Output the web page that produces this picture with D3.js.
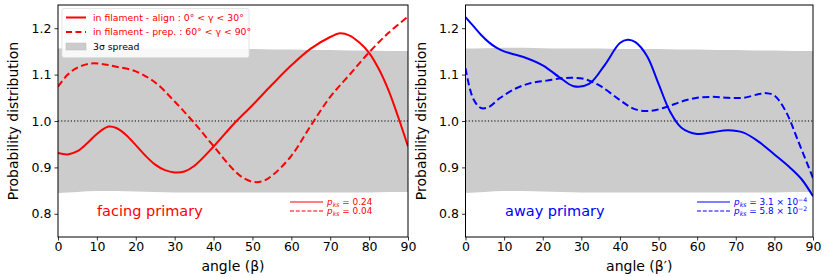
<!DOCTYPE html>
<html><head><meta charset="utf-8">
<script src="https://cdn.jsdelivr.net/npm/d3@7"></script>
<style>body{margin:0;background:#fff}svg{font-family:"DejaVu Sans",sans-serif}</style>
</head><body><svg id="c" width="830" height="277"></svg>
<script>
// ---------- data ----------
const xTicks = [0,10,20,30,40,50,60,70,80,90];
const yTicks = [0.8,0.9,1.0,1.1,1.2];
const bandAngles = [0,5,10,15,20,25,30,35,40,45,50,55,60,65,70,75,80,85,90];
const leftBandUpper = [1.156,1.158,1.159,1.158,1.157,1.156,1.156,1.156,1.155,1.155,1.155,1.154,1.154,1.153,1.153,1.152,1.152,1.151,1.151];
const leftBandLower = [0.845,0.847,0.849,0.849,0.848,0.847,0.846,0.846,0.846,0.846,0.846,0.846,0.846,0.846,0.846,0.846,0.846,0.847,0.847];
const rightBandUpper = [1.156,1.157,1.158,1.158,1.157,1.156,1.156,1.156,1.155,1.155,1.155,1.154,1.154,1.153,1.153,1.152,1.152,1.151,1.151];
const rightBandLower = [0.845,0.847,0.849,0.849,0.848,0.847,0.846,0.846,0.846,0.846,0.846,0.846,0.846,0.846,0.846,0.846,0.846,0.847,0.847];

const alignAngles = [0,2.5,5,7.5,10,13,15,17.5,20,22.5,25,27.5,30,32.5,35,40,45,50,55,60,65,70,72.5,75,77.5,80,82.5,85,87.5,90];
const alignValues = [0.931,0.928,0.935,0.952,0.972,0.988,0.985,0.970,0.948,0.925,0.906,0.894,0.889,0.891,0.903,0.945,0.992,1.034,1.078,1.120,1.156,1.181,1.189,1.184,1.169,1.147,1.112,1.066,1.008,0.945];
const prepAngles = [0,2.5,5,8.5,12,15,20,25,30,35,40,45,47.5,50,52.5,55,60,65,70,75,80,85,90];
const prepValues = [1.074,1.100,1.115,1.124,1.122,1.117,1.107,1.083,1.042,0.996,0.946,0.896,0.878,0.869,0.870,0.882,0.925,0.990,1.052,1.100,1.148,1.190,1.225];

const awaySolidAngles = [0,2,4,6,8,10,12,15,20,25,28,32,36,40,42,44,47,50,53,56,60,64,68,72,76,80,84,87,90];
const awaySolidValues = [1.224,1.205,1.186,1.170,1.158,1.150,1.145,1.138,1.120,1.090,1.075,1.080,1.120,1.168,1.175,1.170,1.140,1.080,1.020,0.985,0.972,0.976,0.980,0.975,0.955,0.928,0.900,0.875,0.838];
const awayDashAngles = [0,2,4,6,9,13,17,21,25,28,31,35,40,44,48,52,56,60,64,68,72,76,78,80,83,86,90];
const awayDashValues = [1.114,1.048,1.028,1.030,1.050,1.070,1.082,1.087,1.092,1.093,1.090,1.075,1.045,1.025,1.022,1.030,1.042,1.050,1.052,1.050,1.050,1.058,1.060,1.055,1.020,0.960,0.877];

const leftPks = ["0.24","0.04"];
const rightPks = [["3.1","4"],["5.8","2"]];

// ---------- layout ----------
const svg = d3.select("#c");
const yScale = d3.scaleLinear().domain([0.75,1.25]).range([237,5]);
const panels = [
  {x0:58, x1:408, color:"red", bandU:leftBandUpper, bandL:leftBandLower,
   s:{a:alignAngles,v:alignValues}, d:{a:prepAngles,v:prepValues}, xlabel:"angle (β)", label:"facing primary", lx:97},
  {x0:465.5, x1:813, color:"blue", bandU:rightBandUpper, bandL:rightBandLower,
   s:{a:awaySolidAngles,v:awaySolidValues}, d:{a:awayDashAngles,v:awayDashValues}, xlabel:"angle (β′)", label:"away primary", lx:505}
];

panels.forEach((p,pi)=>{
  const x = d3.scaleLinear().domain([0,90]).range([p.x0,p.x1]);
  const g = svg.append("g");
  const clipId = "clip"+pi;
  svg.append("clipPath").attr("id",clipId).append("rect")
    .attr("x",p.x0).attr("y",5).attr("width",p.x1-p.x0).attr("height",232);
  const area = d3.area().x((d,i)=>x(bandAngles[i])).y0((d,i)=>yScale(p.bandL[i])).y1((d,i)=>yScale(p.bandU[i])).curve(d3.curveMonotoneX);
  g.append("path").datum(bandAngles).attr("d",area).attr("fill","#cccccc");
  g.append("line").attr("x1",x(0)).attr("x2",x(90)).attr("y1",yScale(1)).attr("y2",yScale(1))
    .attr("stroke","#000").attr("stroke-width",1.2).attr("stroke-dasharray","1.2,2");
  const line = d3.line().x(d=>x(d[0])).y(d=>yScale(d[1])).curve(d3.curveCatmullRom.alpha(0.5));
  const cg = g.append("g").attr("clip-path",`url(#${clipId})`);
  cg.append("path").datum(p.s.a.map((a,i)=>[a,p.s.v[i]])).attr("d",line)
    .attr("fill","none").attr("stroke",p.color).attr("stroke-width",2);
  cg.append("path").datum(p.d.a.map((a,i)=>[a,p.d.v[i]])).attr("d",line)
    .attr("fill","none").attr("stroke",p.color).attr("stroke-width",2).attr("stroke-dasharray","7,3.5");
  // axes
  const xa = g.append("g").attr("transform","translate(0,237)")
    .call(d3.axisBottom(x).tickValues(xTicks).tickSize(3.5).tickPadding(2).tickFormat(d3.format("d")));
  const ya = g.append("g").attr("transform",`translate(${p.x0},0)`)
    .call(d3.axisLeft(yScale).tickValues(yTicks).tickSize(3.5).tickPadding(3).tickFormat(d3.format(".1f")));
  [xa,ya].forEach(a=>{a.select(".domain").remove();a.selectAll("text").attr("font-size",12.5).attr("fill","#000").attr("font-family","DejaVu Sans");a.selectAll("line").attr("stroke","#000").attr("stroke-width",0.8);});
  g.append("rect").attr("x",p.x0).attr("y",5).attr("width",p.x1-p.x0).attr("height",232)
    .attr("fill","none").attr("stroke","#000").attr("stroke-width",1);
  g.append("text").attr("x",(p.x0+p.x1)/2).attr("y",271).attr("text-anchor","middle").attr("font-size",14).text(p.xlabel);
  const ylx = p.x0-40;
  g.append("text").attr("transform",`translate(${ylx},${121}) rotate(-90)`).attr("text-anchor","middle").attr("font-size",14).text("Probability distribution");
  g.append("text").attr("x",p.lx).attr("y",216).attr("font-size",14.5).attr("fill",p.color).text(p.label);
});

// top legend (left panel)
const lg = svg.append("g");
lg.append("rect").attr("x",62).attr("y",8.5).attr("width",187).attr("height",49).attr("rx",2)
  .attr("fill","#fff").attr("fill-opacity",0.85).attr("stroke","#dddddd").attr("stroke-width",0.8);
const legItems = [
  {t:"in filament - align : 0° < γ < 30°", type:"solid"},
  {t:"in filament - prep. : 60° < γ < 90°", type:"dash"},
  {t:"3σ spread", type:"patch"}
];
legItems.forEach((it,i)=>{
  const yy = 17.5 + i*14.5;
  if(it.type==="patch"){
    lg.append("rect").attr("x",66).attr("y",yy-3.5).attr("width",20).attr("height",7).attr("fill","#cccccc").attr("stroke","#bbbbbb").attr("stroke-width",0.5);
  } else {
    lg.append("line").attr("x1",66).attr("x2",86).attr("y1",yy).attr("y2",yy).attr("stroke","red").attr("stroke-width",2)
      .attr("stroke-dasharray",it.type==="dash"?"6,3.5":null);
  }
  lg.append("text").attr("x",93).attr("y",yy+3.2).attr("font-size",9.3).attr("fill",it.type==="patch"?"#000":"red").text(it.t);
});

// p_ks legends
function pks(x0,y0,color,vals,isSci,fs){
  const g = svg.append("g");
  vals.forEach((v,i)=>{
    const yy = y0 + i*9;
    g.append("line").attr("x1",x0).attr("x2",x0+33).attr("y1",yy).attr("y2",yy).attr("stroke",color).attr("stroke-width",1.2)
      .attr("stroke-dasharray",i===1?"4,1.8":null);
    const t = g.append("text").attr("x",x0+37).attr("y",yy+3.3).attr("font-size",fs).attr("fill",color);
    t.append("tspan").attr("font-style","italic").text("p");
    t.append("tspan").attr("font-style","italic").attr("font-size",fs*0.7).attr("dy",1.5).text("ks");
    if(!isSci){
      t.append("tspan").attr("dy",-1.5).text(" = "+v);
    } else {
      t.append("tspan").attr("dy",-1.5).text(" = "+v[0]+" × 10");
      t.append("tspan").attr("dy",-3.3).attr("font-size",fs*0.7).text("−"+v[1]);
    }
  });
}
pks(290,202,"red",leftPks,false,8.9);
pks(697,202,"blue",rightPks,true,8.9);
</script></body></html>
